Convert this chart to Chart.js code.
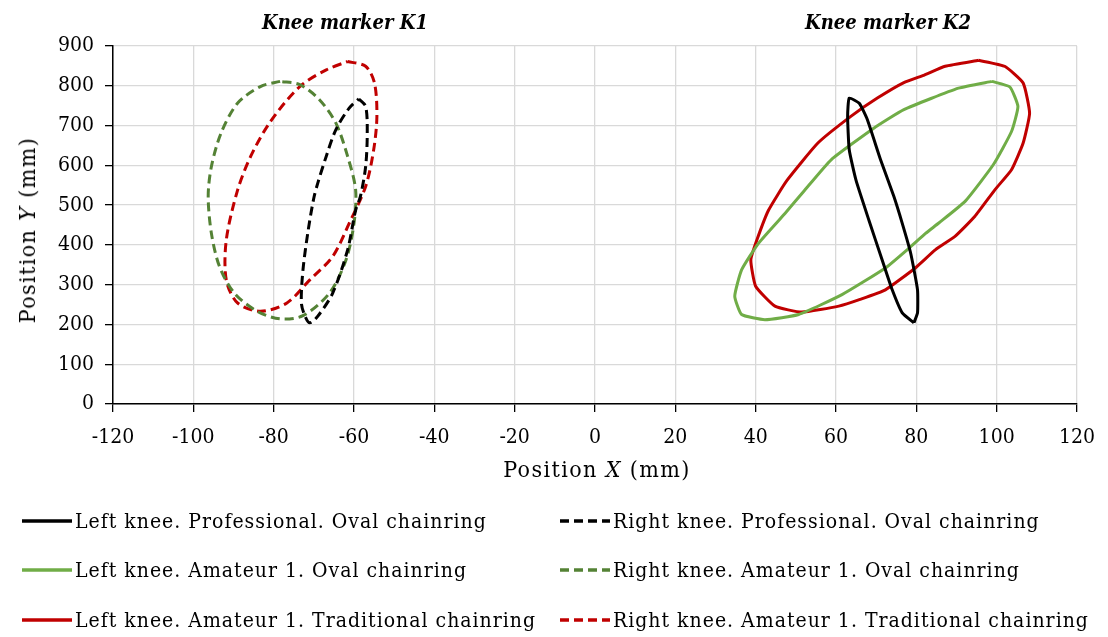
<!DOCTYPE html>
<html>
<head>
<meta charset="utf-8">
<script src="https://cdn.jsdelivr.net/npm/chart.js@4.4.1/dist/chart.umd.min.js"></script>
<style>
    body { margin: 0; background: #fff; font-family: "DejaVu Serif Condensed", "DejaVu Serif", serif; color: #000; }
    #wrap { position: relative; width: 1108px; height: 637px; overflow: hidden; }
    #chart { position: absolute; left: 0; top: 0; }
    .abs { position: absolute; white-space: nowrap; }
    .panel { font-size: 20px; font-weight: bold; font-style: italic; top: 10px; transform: translateX(-50%); }
    .axt { font-size: 23px; letter-spacing: 1.4px; }
    .leg { font-size: 21px; letter-spacing: 1px; display: flex; align-items: center; }
    .leg svg { margin-right: 3px; }
</style>
</head>
<body>
<div id="wrap">
    <canvas id="chart" width="1108" height="637"></canvas>
    <div class="abs panel" style="left:345px">Knee marker K1</div>
    <div class="abs panel" style="left:888px">Knee marker K2</div>
    <div class="abs axt" style="left:597px; top:456px; transform:translateX(-50%)">Position <i>X</i> (mm)</div>
    <div class="abs axt" style="left:27px; top:230px; transform:translate(-50%,-50%) rotate(-90deg)">Position <i>Y</i> (mm)</div>
    <div id="legend"></div>
</div>
<script>
// Knee marker trajectories (mm). Each loop is closed.

// K2 - left knee
const k2LeftProX = [79.4, 76.5, 74.0, 71.5, 68.2, 65.0, 63.3, 62.9, 63.3, 65.8, 67.8, 71.1, 74.4, 76.5, 78.6, 80.3, 80.3, 79.4];
const k2LeftProY = [204, 229, 287, 362, 462, 562, 639, 723, 769, 756, 715, 614, 522, 454, 379, 287, 229, 204];

const k2LeftOvalX = [98.8, 103.3, 105.3, 103.7, 99.2, 92.2, 85.6, 82.3, 78.2, 72.3, 61.5, 50.7, 42.3, 36.5, 34.8, 36.5, 40.7, 47.3, 52.0, 58.8, 69.5, 76.9, 90.5, 98.8];
const k2LeftOvalY = [811, 797, 748, 685, 602, 510, 455, 429, 392, 342, 275, 225, 212, 225, 271, 337, 404, 479, 535, 614, 694, 740, 794, 811];

const k2LeftTradX = [95.5, 102.0, 106.6, 108.2, 106.6, 103.7, 99.6, 94.6, 89.7, 84.8, 79.5, 72.3, 66.0, 60.7, 51.5, 44.8, 40.0, 38.8, 40.3, 43.2, 47.8, 55.5, 63.7, 70.3, 76.9, 82.0, 87.2, 95.5];
const k2LeftTradY = [864, 849, 807, 731, 656, 589, 539, 472, 422, 388, 340, 287, 263, 246, 231, 246, 296, 362, 412, 487, 562, 656, 723, 769, 808, 827, 849, 864];

// K1 - right knee
const k1RightProX = [-58.8, -57.1, -56.7, -57.1, -58.4, -59.6, -61.6, -65.3, -69.0, -71.0, -72.2, -73.1, -72.7, -71.4, -70.0, -69.0, -66.9, -64.5, -61.2, -58.8];
const k1RightProY = [767, 748, 681, 597, 522, 487, 387, 279, 221, 204, 221, 254, 337, 437, 518, 556, 623, 690, 744, 767];

const k1RightOvalX = [-78.4, -83.3, -89.0, -93.1, -95.5, -96.3, -95.5, -93.5, -89.8, -84.1, -78.4, -72.7, -66.1, -62.0, -60.0, -59.6, -61.6, -64.5, -68.6, -73.5, -78.4];
const k1RightOvalY = [811, 798, 756, 681, 597, 522, 429, 346, 279, 233, 214, 222, 279, 362, 454, 539, 623, 706, 765, 803, 811];

const k1RightTradX = [-61.6, -57.1, -54.9, -54.3, -55.1, -57.1, -61.2, -65.3, -71.0, -76.7, -83.3, -89.0, -91.8, -91.8, -89.0, -85.7, -80.8, -73.5, -66.9, -61.6];
const k1RightTradY = [861, 849, 807, 723, 639, 547, 454, 371, 312, 254, 233, 254, 312, 412, 537, 623, 710, 798, 840, 861];

const seriesNames = [
    'Left knee. Professional. Oval chainring',
    'Right knee. Professional. Oval chainring',
    'Left knee. Amateur 1. Oval chainring',
    'Right knee. Amateur 1. Oval chainring',
    'Left knee. Amateur 1. Traditional chainring',
    'Right knee. Amateur 1. Traditional chainring'
];

const xTicksMin = -120, xTicksMax = 120, xStep = 20;
const yTicksMin = 0, yTicksMax = 900, yStep = 100;

function pts(xs, ys) {
    return xs.map((x, i) => ({ x: x, y: ys[i] }));
}

const DASH = [9, 5];
const series = [
    { name: seriesNames[0], data: pts(k2LeftProX, k2LeftProY), color: '#000000', dash: [] },
    { name: seriesNames[1], data: pts(k1RightProX, k1RightProY), color: '#000000', dash: DASH },
    { name: seriesNames[2], data: pts(k2LeftOvalX, k2LeftOvalY), color: '#70AD47', dash: [] },
    { name: seriesNames[3], data: pts(k1RightOvalX, k1RightOvalY), color: '#548235', dash: DASH },
    { name: seriesNames[4], data: pts(k2LeftTradX, k2LeftTradY), color: '#C00000', dash: [] },
    { name: seriesNames[5], data: pts(k1RightTradX, k1RightTradY), color: '#C00000', dash: DASH }
];

const tickFont = { family: '"DejaVu Serif Condensed", "DejaVu Serif", serif', size: 21 };

new Chart(document.getElementById('chart'), {
    type: 'scatter',
    data: {
        datasets: series.map(s => ({
            label: s.name,
            data: s.data,
            showLine: true,
            borderColor: s.color,
            backgroundColor: s.color,
            borderWidth: 3,
            borderDash: s.dash,
            pointRadius: 0,
            tension: s.dash.length ? 0.3 : 0.15,
            fill: false
        }))
    },
    options: {
        responsive: false,
        animation: false,
        layout: { padding: { left: 0, right: 31, top: 46, bottom: 0 } },
        plugins: { legend: { display: false }, tooltip: { enabled: false } },
        scales: {
            x: {
                type: 'linear',
                min: xTicksMin, max: xTicksMax,
                ticks: { stepSize: xStep, color: '#000', font: tickFont, padding: 13 },
                grid: { color: '#d9d9d9', lineWidth: 1.3, tickColor: '#000', tickLength: 8 },
                border: { color: '#000', width: 1.5 },
                afterFit: s => { s.height = 233; }
            },
            y: {
                type: 'linear',
                min: yTicksMin, max: yTicksMax,
                ticks: { stepSize: yStep, color: '#000', font: tickFont, padding: 11 },
                grid: { color: '#d9d9d9', lineWidth: 1.3, tickColor: '#000', tickLength: 8 },
                border: { color: '#000', width: 1.5 },
                afterFit: s => { s.width = 113; }
            }
        }
    }
});

// legend: two columns, left knees on the left, right knees on the right
const legend = document.getElementById('legend');
const legPos = [[22, 509], [560, 509], [22, 558], [560, 558], [22, 608], [560, 608]];
series.forEach((s, i) => {
    const d = document.createElement('div');
    d.className = 'abs leg';
    d.style.left = legPos[i][0] + 'px';
    d.style.top = legPos[i][1] + 'px';
    const dash = s.dash.length ? `stroke-dasharray="${s.dash.join(' ')}"` : '';
    d.innerHTML = `<svg width="50" height="8"><line x1="0" y1="4" x2="50" y2="4" stroke="${s.color}" stroke-width="3.5" ${dash}/></svg>` +
        `<span>${s.name}</span>`;
    legend.appendChild(d);
});
</script>
</body>
</html>
